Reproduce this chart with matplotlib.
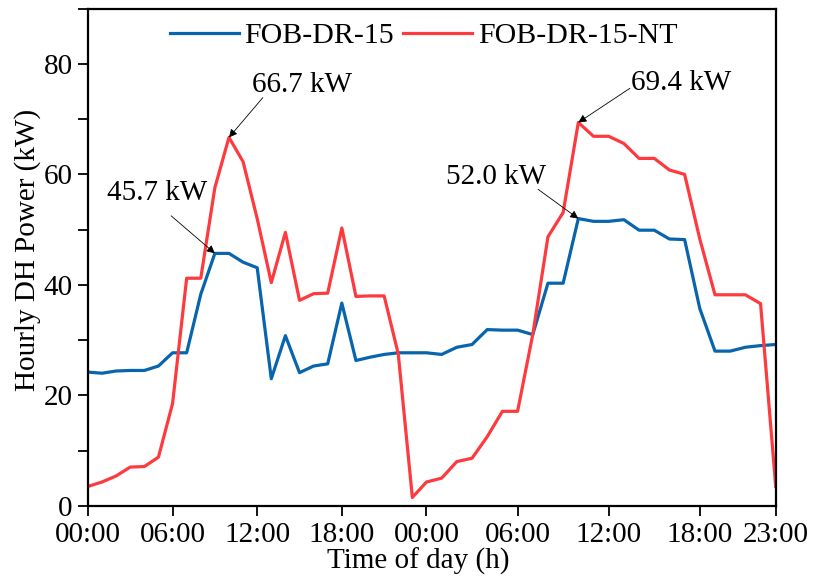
import numpy as np
import matplotlib
matplotlib.use("Agg")
import matplotlib.pyplot as plt
from matplotlib.ticker import MultipleLocator

# --- data (hourly, two consecutive days) ---
hours = np.arange(48)
fob_dr15 = [24.2, 24.0, 24.4, 24.5, 24.5, 25.3, 27.7, 27.7, 38.3, 45.7,
            45.7, 44.1, 43.1, 23.0, 30.8, 24.1, 25.3, 25.7, 36.7, 26.3,
            26.9, 27.4, 27.7, 27.7,
            27.7, 27.4, 28.7, 29.2, 31.9, 31.8, 31.8, 31.0, 40.3, 40.3,
            52.0, 51.5, 51.5, 51.8, 49.9, 49.9, 48.3, 48.2, 35.7, 28.0,
            28.0, 28.7, 29.0, 29.2]
fob_dr15_nt = [3.5, 4.3, 5.4, 7.0, 7.1, 8.8, 18.5, 41.2, 41.2, 57.6,
               66.7, 62.3, 52.0, 40.4, 49.5, 37.2, 38.4, 38.5, 50.3, 37.9,
               38.0, 38.0, 27.5, 1.5,
               4.3, 5.0, 8.0, 8.6, 12.5, 17.1, 17.1, 31.0, 48.7, 53.1,
               69.4, 66.9, 66.9, 65.6, 62.9, 62.9, 60.8, 60.0, 48.3, 38.2,
               38.2, 38.2, 36.6, 3.5]
tick_hours = [0, 6, 12, 18, 24, 30, 36, 42, 47]
tick_labels = ["00:00", "06:00", "12:00", "18:00", "00:00",
               "06:00", "12:00", "18:00", "23:00"]

# second day is drawn a bit wider than the first one in the original
r = 15.19 / 14.11


def fwd(x):
    x = np.asarray(x, dtype=float)
    return np.where(x <= 24, x, 24 + (x - 24) * r)


def inv(x):
    x = np.asarray(x, dtype=float)
    return np.where(x <= 24, x, 24 + (x - 24) / r)


plt.rcParams["font.family"] = ["Liberation Serif", "DejaVu Serif"]
plt.rcParams["font.size"] = 21

fig = plt.figure(figsize=(8.14, 5.82), dpi=100)
ax = fig.add_axes([0.108, 0.131, 0.845, 0.854])
ax.set_xscale("function", functions=(fwd, inv))

blue = "#0865ad"
red = "#fd3a3e"
ax.plot(hours, fob_dr15, color=blue, lw=2.3, label="FOB-DR-15")
ax.plot(hours, fob_dr15_nt, color=red, lw=2.3, label="FOB-DR-15-NT")

ax.set_xlim(0, 47)
ax.set_ylim(0, 90)
ax.set_xticks(tick_hours)
ax.set_xticklabels(tick_labels)
ax.set_yticks([0, 20, 40, 60, 80])
ax.yaxis.set_minor_locator(MultipleLocator(10))
ax.tick_params(axis="both", which="both", direction="out", length=7,
               width=1.3, labelsize=21)
ax.tick_params(axis="x", which="major", pad=4.5)
ax.tick_params(axis="y", which="major", pad=4)
ax.tick_params(axis="x", which="minor", bottom=False)
for sp in ax.spines.values():
    sp.set_linewidth(1.6)

ax.set_xlabel("Time of day (h)", fontsize=21, labelpad=0)
ax.set_ylabel("Hourly DH Power (kW)", fontsize=21, labelpad=2)
ax.xaxis.label.set_x(0.48)
ax.yaxis.label.set_y(0.515)

# peak annotations
arrow = dict(arrowstyle="-|>", color="black", lw=0.6, mutation_scale=12,
             shrinkA=0, shrinkB=0)
notes = [
    ("66.7 kW", 10, 66.7, 12.4, 73.9, 15.2, 76.1),
    ("45.7 kW", 9, 45.7, 5.9, 52.5, 4.9, 56.6),
    ("52.0 kW", 34, 52.0, 31.35, 57.3, 28.6, 59.5),
    ("69.4 kW", 34, 69.4, 37.4, 75.6, 40.8, 76.5),
]
for txt, hx, hy, tx, ty, lx, ly in notes:
    ax.annotate("", xy=(hx, hy), xytext=(tx, ty), arrowprops=arrow)
    ax.text(lx, ly, txt, ha="center", va="center", fontsize=21)

ax.legend(loc="center", bbox_to_anchor=(0.488, 0.946), ncol=2, frameon=False,
          fontsize=21.5, handlelength=2.3, handletextpad=0.2,
          columnspacing=0.3, borderpad=0.1)

fig.savefig("out.png", dpi=100)
